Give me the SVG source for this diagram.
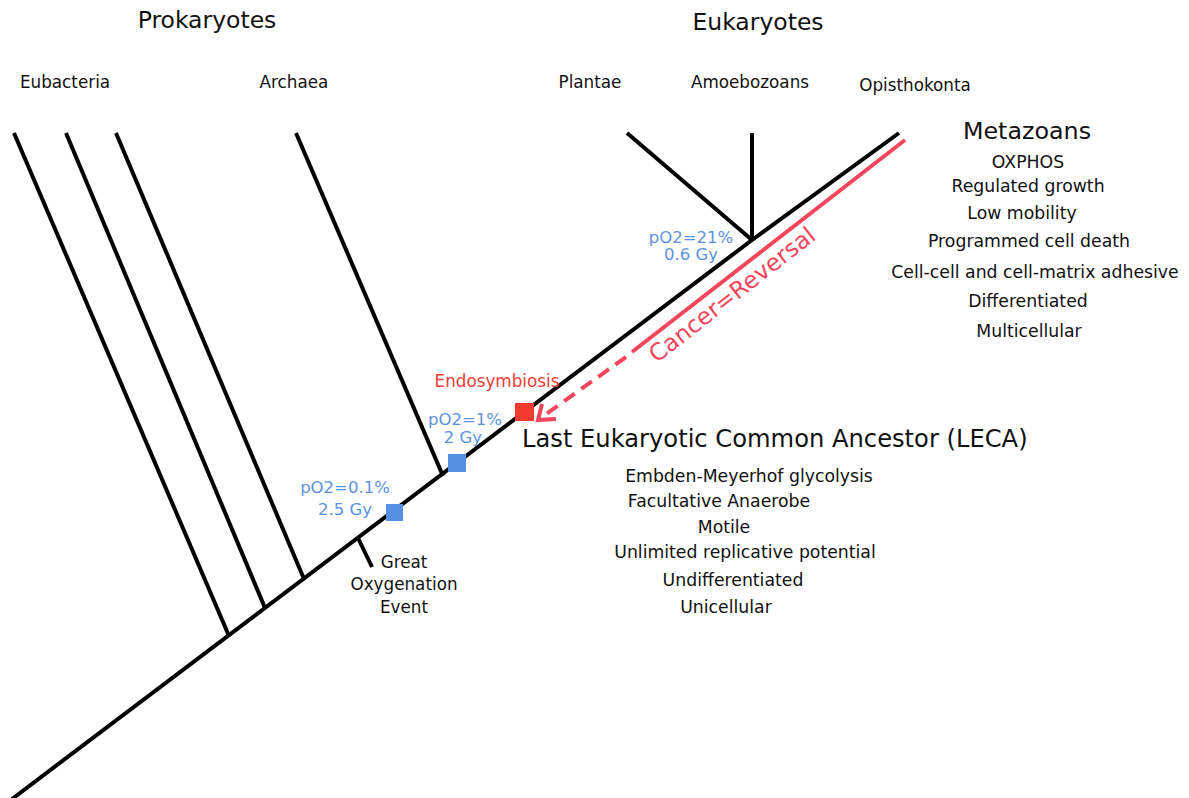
<svg xmlns="http://www.w3.org/2000/svg" width="1189" height="798" viewBox="0 0 1189 798">
<style>
text{font-family:"DejaVu Sans","Noto Sans",sans-serif;fill:#111}
.h{font-size:23.5px}
.lab{font-size:16.8px;text-anchor:middle}
.lst{font-size:17.3px;text-anchor:middle}
.blue{font-size:16.5px;text-anchor:middle;fill:#5b93e3}
.red{fill:#f23c35}
.br{stroke:#000;stroke-width:4;fill:none;stroke-linecap:butt}
.can{stroke:#f2465c;stroke-width:4;fill:none}
</style>
<rect width="1189" height="798" fill="#fff"/>
<g id="connectors">
<polyline class="br" points="12,799 752,240 899,133"/>
<line class="br" x1="14" y1="133" x2="229" y2="636"/>
<line class="br" x1="66" y1="133" x2="265" y2="608"/>
<line class="br" x1="116" y1="133" x2="304" y2="579"/>
<line class="br" x1="296" y1="133" x2="443" y2="476"/>
<line class="br" x1="358" y1="538" x2="372" y2="567"/>
<line class="br" x1="627" y1="133" x2="752" y2="240"/>
<line class="br" x1="752" y1="133" x2="752" y2="240"/>
<line class="can" x1="905" y1="140" x2="632" y2="352"/>
<line class="can" x1="626" y1="357" x2="542" y2="417" stroke-dasharray="13 8"/>
<polyline class="can" points="556,419 538,420 542,404" stroke-linejoin="miter"/>
</g>
<g id="markers">
<rect x="515" y="403" width="19" height="18" fill="#f23c30"/>
<rect x="448" y="454" width="18" height="18" fill="#5590e4"/>
<rect x="386" y="504" width="17" height="17" fill="#5590e4"/>
</g>
<g id="prokaryotes"><text class="h" x="207" y="28" text-anchor="middle">Prokaryotes</text></g>
<g id="eukaryotes"><text class="h" x="758" y="30" text-anchor="middle">Eukaryotes</text></g>
<g id="eubacteria"><text class="lab" x="65" y="88">Eubacteria</text></g>
<g id="archaea"><text class="lab" x="294" y="88">Archaea</text></g>
<g id="plantae"><text class="lab" x="590" y="88">Plantae</text></g>
<g id="amoebozoans"><text class="lab" x="750" y="88">Amoebozoans</text></g>
<g id="opisthokonta"><text class="lab" x="915" y="91">Opisthokonta</text></g>
<g id="metazoans">
<text x="1027" y="139" text-anchor="middle" style="font-size:23.8px">Metazoans</text>
<text class="lst" x="1028" y="168">OXPHOS</text>
<text class="lst" x="1028" y="192">Regulated growth</text>
<text class="lst" x="1022" y="219">Low mobility</text>
<text class="lst" x="1029" y="247">Programmed cell death</text>
<text class="lst" x="1035" y="278">Cell-cell and cell-matrix adhesive</text>
<text class="lst" x="1028" y="307">Differentiated</text>
<text class="lst" x="1029" y="337">Multicellular</text>
</g>
<g id="leca">
<text x="522" y="447" style="font-size:24.2px">Last Eukaryotic Common Ancestor (LECA)</text>
<text class="lst" x="749" y="482">Embden-Meyerhof glycolysis</text>
<text class="lst" x="719" y="507">Facultative Anaerobe</text>
<text class="lst" x="724" y="533">Motile</text>
<text class="lst" x="745" y="558">Unlimited replicative potential</text>
<text class="lst" x="733" y="586">Undifferentiated</text>
<text class="lst" x="726" y="613">Unicellular</text>
</g>
<g id="goe">
<text class="lab" x="404" y="568">Great</text>
<text class="lab" x="404" y="590">Oxygenation</text>
<text class="lab" x="404" y="613">Event</text>
</g>
<g id="po2-21"><text class="blue" x="691" y="243">pO2=21%</text><text class="blue" x="691" y="260">0.6 Gy</text></g>
<g id="po2-1"><text class="blue" x="465" y="425">pO2=1%</text><text class="blue" x="463" y="443">2 Gy</text></g>
<g id="po2-01"><text class="blue" x="345" y="493">pO2=0.1%</text><text class="blue" x="345" y="515">2.5 Gy</text></g>
<g id="endosymbiosis"><text class="lab red" x="497" y="387">Endosymbiosis</text></g>
<g id="cancer"><text x="737" y="301" text-anchor="middle" transform="rotate(-38 737 301)" style="font-size:23.5px;fill:#f2465c">Cancer=Reversal</text></g>
</svg>
